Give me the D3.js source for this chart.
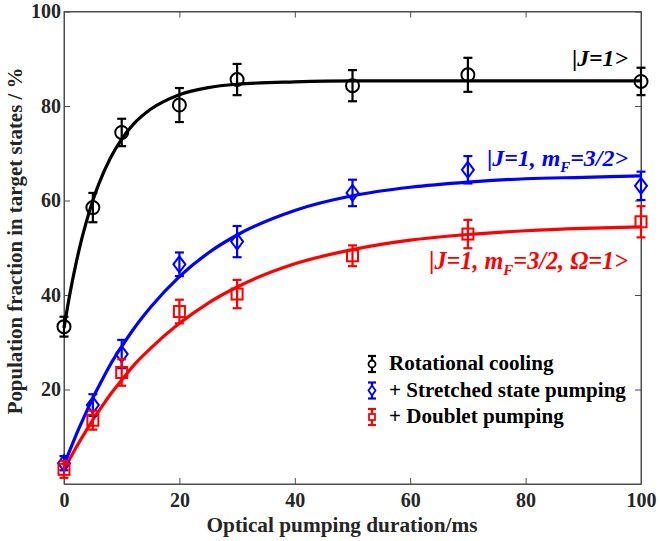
<!DOCTYPE html>
<html><head><meta charset="utf-8">
<script src="https://cdn.jsdelivr.net/npm/d3@7"></script>
<style>body{margin:0;background:#fff}svg{display:block}</style>
</head><body><svg id="c" width="660" height="541"></svg>
<script>
const times = [0, 5, 10, 20, 30, 50, 70, 100];
const rotational = [33.3, 58.5, 74.4, 80.2, 85.6, 84.3, 86.6, 85.2];
const rotationalErr = [2.1, 3.1, 2.9, 3.6, 3.3, 3.3, 3.6, 2.9];
const stretched = [4.4, 16.7, 27.5, 46.5, 51.3, 61.6, 66.5, 63.1];
const stretchedErr = [1.5, 2.3, 3.0, 2.5, 3.3, 2.8, 2.9, 3.0];
const doublet = [3.1, 13.5, 23.6, 36.5, 40.2, 48.3, 52.9, 55.5];
const doubletErr = [1.8, 2.0, 2.8, 2.5, 3.0, 2.2, 3.0, 3.3];

const fitTimes = [0, 1, 2, 3, 4, 5, 6, 8, 10, 12, 15, 20, 25, 30, 40, 50, 60, 70, 80, 90, 100];
const rotationalFit = [33.0, 40.1, 46.2, 51.5, 56.0, 60.0, 63.4, 68.9, 73.0, 76.1, 79.3, 82.4, 83.9, 84.6, 85.1, 85.3, 85.3, 85.3, 85.3, 85.3, 85.3];
const stretchedFit = [4.0, 7.1, 10.1, 12.9, 15.6, 18.2, 20.6, 25.2, 29.1, 32.7, 37.4, 43.9, 48.9, 52.7, 57.9, 61.0, 62.8, 63.9, 64.6, 64.9, 65.2];
const doubletFit = [3.0, 5.3, 7.5, 9.6, 11.6, 13.6, 15.4, 18.9, 22.0, 25.0, 28.7, 34.0, 38.3, 41.7, 46.6, 49.6, 51.6, 52.8, 53.6, 54.1, 54.4];

const xTicks = [0, 20, 40, 60, 80, 100];
const yTicks = [20, 40, 60, 80, 100];
const legendLabels = ["Rotational cooling", "+ Stretched state pumping", "+ Doublet pumping"];
const colors = ["#000000", "#0000ff", "#ff0000"];
const shapes = ["circle", "diamond", "square"];

const FONT = '"Liberation Serif"';

const svg = d3.select("#c");
const L = 64, R = 641, T = 11.5, B = 484;
const x = d3.scaleLinear().domain([0, 100]).range([L, R]);
const y = d3.scaleLinear().domain([0, 100]).range([B, T]);
const axisCol = "#262626";

svg.append("rect").attr("x", L).attr("y", T).attr("width", R - L).attr("height", B - T)
  .attr("fill", "none").attr("stroke", "#4d4d4d").attr("stroke-width", 1);

const gx = svg.append("g").attr("transform", `translate(0,${B})`)
  .call(d3.axisBottom(x).tickValues(xTicks).tickSizeInner(-6).tickSizeOuter(0).tickPadding(9));
const gy = svg.append("g").attr("transform", `translate(${L},0)`)
  .call(d3.axisLeft(y).tickValues(yTicks).tickSizeInner(-6).tickSizeOuter(0).tickPadding(3));
const gx2 = svg.append("g").attr("transform", `translate(0,${T})`)
  .call(d3.axisTop(x).tickValues(xTicks).tickSizeInner(-6).tickSizeOuter(0).tickFormat(""));
const gy2 = svg.append("g").attr("transform", `translate(${R},0)`)
  .call(d3.axisRight(y).tickValues(yTicks).tickSizeInner(-6).tickSizeOuter(0).tickFormat(""));
[gx, gy, gx2, gy2].forEach(g => {
  g.attr("font-family", null);
  g.select(".domain").attr("stroke", "#4d4d4d");
  g.selectAll(".tick line").attr("stroke", "#4d4d4d");
  g.selectAll("text").style("font-family", FONT).attr("font-weight", "bold")
    .attr("font-size", 20).attr("fill", axisCol);
});
gx.selectAll(".tick text").attr("dy", "0.71em");

function fitText(sel, target) {
  const w = sel.node().getComputedTextLength();
  const fs = parseFloat(sel.attr("font-size"));
  sel.attr("font-size", (fs * target / w).toFixed(2));
}

const xl = svg.append("text").attr("x", 342).attr("y", 532).attr("text-anchor", "middle")
  .style("font-family", FONT).attr("font-weight", "bold").attr("font-size", 20).attr("fill", axisCol)
  .text("Optical pumping duration/ms");
fitText(xl, 271);
const yl = svg.append("text").attr("transform", `translate(22,${241}) rotate(-90)`).attr("text-anchor", "middle")
  .style("font-family", FONT).attr("font-weight", "bold").attr("font-size", 20).attr("fill", axisCol)
  .text("Population fraction in target states / %");
fitText(yl, 347);

const line = d3.line().x(d => x(d[0])).y(d => y(d[1])).curve(d3.curveMonotoneX);
[rotationalFit, stretchedFit, doubletFit].forEach((fit, i) => {
  svg.append("path").datum(fitTimes.map((t, k) => [t, fit[k]]))
    .attr("d", line).attr("fill", "none").attr("stroke", colors[i]).attr("stroke-width", 3.2);
});

function marker(g, shape, cx, cy, col) {
  if (shape === "circle") {
    g.append("circle").attr("cx", cx).attr("cy", cy).attr("r", 6.5)
      .attr("fill", "none").attr("stroke", col).attr("stroke-width", 2);
  } else if (shape === "diamond") {
    g.append("path").attr("d", `M${cx},${cy - 8}L${cx + 6},${cy}L${cx},${cy + 8}L${cx - 6},${cy}Z`)
      .attr("fill", "none").attr("stroke", col).attr("stroke-width", 2);
  } else {
    g.append("rect").attr("x", cx - 5.5).attr("y", cy - 5.5).attr("width", 11).attr("height", 11)
      .attr("fill", "none").attr("stroke", col).attr("stroke-width", 2);
  }
}
function errbar(g, cx, y1, y2, col, cap) {
  g.append("line").attr("x1", cx).attr("x2", cx).attr("y1", y1).attr("y2", y2)
    .attr("stroke", col).attr("stroke-width", 2.2);
  [y1, y2].forEach(yy => g.append("line").attr("x1", cx - cap).attr("x2", cx + cap)
    .attr("y1", yy).attr("y2", yy).attr("stroke", col).attr("stroke-width", 2.2));
}

const series = [[rotational, rotationalErr], [stretched, stretchedErr], [doublet, doubletErr]];
series.forEach(([vals, errs], i) => {
  const g = svg.append("g");
  times.forEach((t, k) => {
    errbar(g, x(t), y(vals[k] + errs[k]), y(vals[k] - errs[k]), colors[i], 4.5);
    marker(g, shapes[i], x(t), y(vals[k]), colors[i]);
  });
});

const ann = [
  {t: [["|", "normal"], ["J=1>", "italic"]], y: 66, col: "#000", w: 56},
  {t: [["|", "normal"], ["J=1, m", "italic"], ["F", "italic", 6, 0.62], ["=3/2>", "italic", -6]], y: 166, col: "#0000ff", w: 141},
  {t: [["|", "normal"], ["J=1, m", "italic"], ["F", "italic", 6, 0.62], ["=3/2, Ω=1>", "italic", -6]], y: 269, col: "#ff0000", w: 199}
];
ann.forEach(a => {
  const tx = svg.append("text").attr("x", 628).attr("y", a.y).attr("text-anchor", "end")
    .style("font-family", FONT).attr("font-weight", "bold").attr("font-size", 21).attr("fill", a.col);
  const spans = [];
  a.t.forEach(p => {
    const s = tx.append("tspan").attr("font-style", p[1]).text(p[0]);
    if (p[2]) s.attr("dy", p[2]);
    if (p[3]) s.attr("font-size", (21 * p[3]).toFixed(2));
    spans.push(s);
  });
  const k = a.w / tx.node().getComputedTextLength();
  tx.attr("font-size", (21 * k).toFixed(2));
  a.t.forEach((p, j) => { if (p[3]) spans[j].attr("font-size", (21 * k * p[3]).toFixed(2)); });
});

const legTexts = [];
legendLabels.forEach((lab, i) => {
  const ly = 364 + i * 26.5;
  const g = svg.append("g");
  errbar(g, 372, ly - 8, ly + 8, colors[i], 4);
  if (shapes[i] === "circle") g.append("circle").attr("cx", 372).attr("cy", ly).attr("r", 3.5).attr("fill", "#fff").attr("stroke", colors[i]).attr("stroke-width", 1.8);
  else if (shapes[i] === "diamond") g.append("path").attr("d", `M372,${ly - 5}L375.5,${ly}L372,${ly + 5}L368.5,${ly}Z`).attr("fill", "#fff").attr("stroke", colors[i]).attr("stroke-width", 1.8);
  else g.append("rect").attr("x", 369).attr("y", ly - 3).attr("width", 6).attr("height", 6).attr("fill", "#fff").attr("stroke", colors[i]).attr("stroke-width", 1.8);
  legTexts.push(svg.append("text").attr("x", 389).attr("y", ly + 6).style("font-family", FONT)
    .attr("font-weight", "bold").attr("font-size", 19).attr("fill", "#000").text(lab));
});
const legK = 237 / legTexts[1].node().getComputedTextLength();
legTexts.forEach(t => t.attr("font-size", (19 * legK).toFixed(2)));
</script></body></html>
